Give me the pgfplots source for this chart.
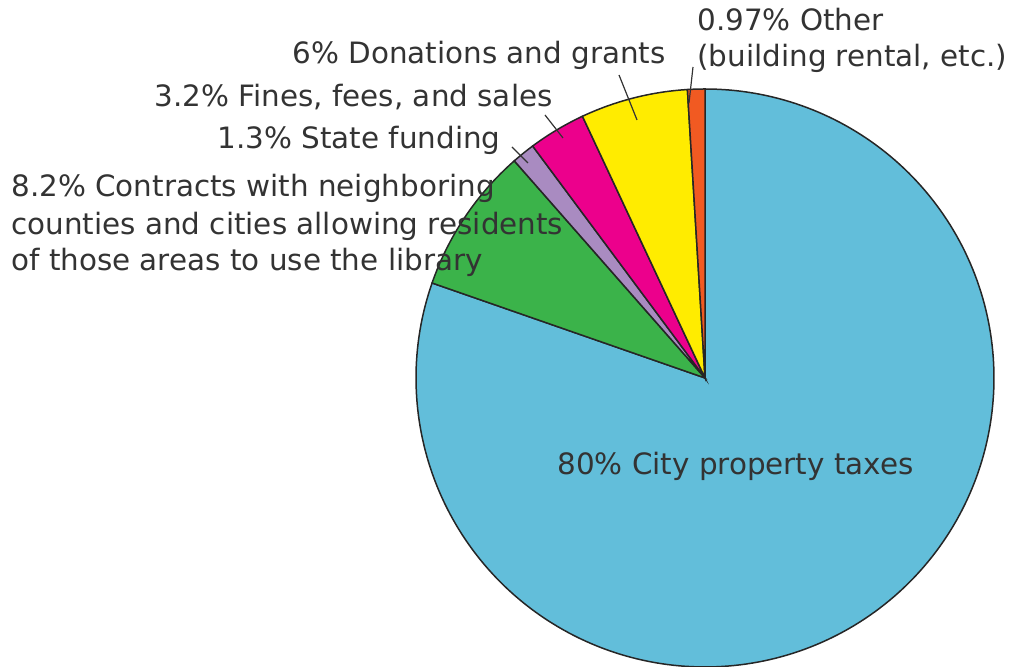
\documentclass[border=0pt]{standalone}
\usepackage{pgfplots}
\pgfplotsset{compat=1.18}
\usepackage{fontspec}
\setmainfont{DejaVu Sans}
\definecolor{cblue}{HTML}{62BEDA}
\definecolor{cgreen}{HTML}{3BB34A}
\definecolor{cpurple}{HTML}{A98BC1}
\definecolor{cmag}{HTML}{EC008C}
\definecolor{cyel}{HTML}{FFEC00}
\definecolor{corange}{HTML}{F15A22}
\definecolor{ctext}{HTML}{333333}
% shares in percent
\def\vOther{0.97}
\def\vDon{6}
\def\vFines{3.2}
\def\vState{1.3}
\def\vContr{8.2}
\def\vCity{80}
\pgfmathsetmacro{\aA}{90}
\pgfmathsetmacro{\aB}{\aA+3.6*\vOther}
\pgfmathsetmacro{\aC}{\aB+3.6*\vDon}
\pgfmathsetmacro{\aD}{\aC+3.6*\vFines}
\pgfmathsetmacro{\aE}{\aD+3.6*\vState}
\pgfmathsetmacro{\aF}{\aE+3.6*\vContr}
\pgfmathsetmacro{\aG}{450}
\tikzset{lbl/.style={font=\fontsize{14.7}{18.5}\selectfont, text=ctext, inner sep=0pt}}
\begin{document}
\begin{tikzpicture}
\begin{axis}[x=0.5pt, y=0.5pt, xmin=0, xmax=1014, ymin=0, ymax=667,
  hide axis, clip=false, scale only axis]
\coordinate (LL) at (axis cs:0,0);
\coordinate (UR) at (axis cs:1014,667);
\addplot[draw=black!85, line width=0.75pt, fill=cblue, domain=\aF:\aG, samples=240, variable=\t]
  ({705+289*cos(\t)},{289+289*sin(\t)}) -- (axis cs:705,289) -- cycle;
\addplot[draw=black!85, line width=0.75pt, fill=cgreen, domain=\aE:\aF, samples=40, variable=\t]
  ({705+289*cos(\t)},{289+289*sin(\t)}) -- (axis cs:705,289) -- cycle;
\addplot[draw=black!85, line width=0.75pt, fill=cpurple, domain=\aD:\aE, samples=10, variable=\t]
  ({705+289*cos(\t)},{289+289*sin(\t)}) -- (axis cs:705,289) -- cycle;
\addplot[draw=black!85, line width=0.75pt, fill=cmag, domain=\aC:\aD, samples=20, variable=\t]
  ({705+289*cos(\t)},{289+289*sin(\t)}) -- (axis cs:705,289) -- cycle;
\addplot[draw=black!85, line width=0.75pt, fill=cyel, domain=\aB:\aC, samples=30, variable=\t]
  ({705+289*cos(\t)},{289+289*sin(\t)}) -- (axis cs:705,289) -- cycle;
\addplot[draw=black!85, line width=0.75pt, fill=corange, domain=\aA:\aB, samples=8, variable=\t]
  ({705+289*cos(\t)},{289+289*sin(\t)}) -- (axis cs:705,289) -- cycle;
% leader lines
\draw[ctext, line width=0.6pt] (axis cs:689,564) -- (axis cs:693,600);
\draw[ctext, line width=0.6pt] (axis cs:637,547) -- (axis cs:619,592);
\draw[ctext, line width=0.6pt] (axis cs:563,529) -- (axis cs:545,552);
\draw[ctext, line width=0.6pt] (axis cs:528,504) -- (axis cs:512,520);
% labels
\node[lbl, anchor=west] at (axis cs:697,647) {0.97\% Other};
\node[lbl, anchor=west] at (axis cs:697,609) {(building rental, etc.)};
\node[lbl, anchor=east] at (axis cs:666,612) {6\% Donations and grants};
\node[lbl, anchor=east] at (axis cs:553,570) {3.2\% Fines, fees, and sales};
\node[lbl, anchor=east] at (axis cs:501,527) {1.3\% State funding};
\node[lbl, anchor=west] at (axis cs:11,479) {8.2\% Contracts with neighboring};
\node[lbl, anchor=west] at (axis cs:11,441) {counties and cities allowing residents};
\node[lbl, anchor=west] at (axis cs:11,405) {of those areas to use the library};
\node[lbl, anchor=west] at (axis cs:557,201) {80\% City property taxes};
\end{axis}
\pgfresetboundingbox
\path[use as bounding box] (LL) rectangle (UR);
\end{tikzpicture}
\end{document}
